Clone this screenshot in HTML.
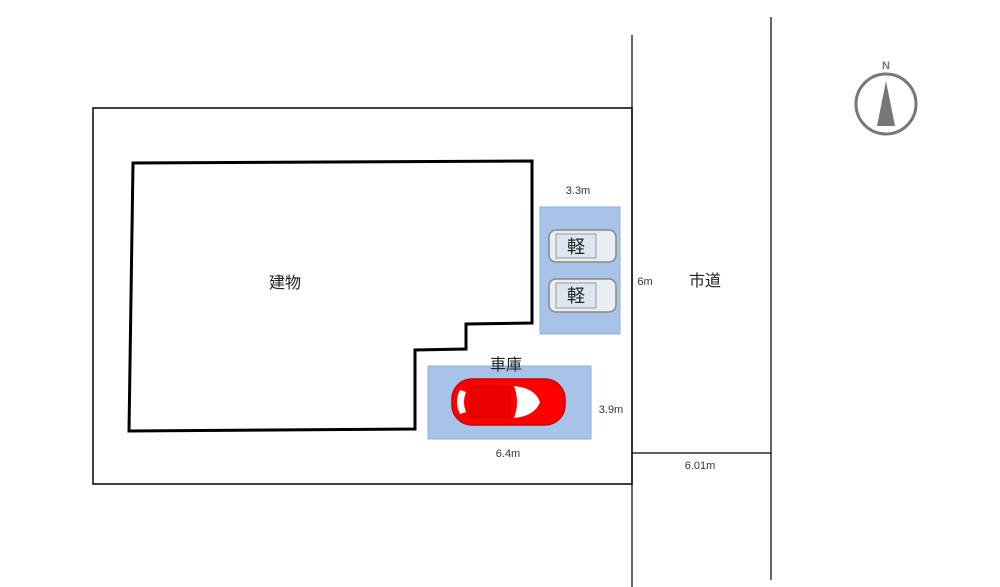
<!DOCTYPE html>
<html><head><meta charset="utf-8"><style>
body{margin:0;background:#fff;}
svg{display:block;}
text{font-family:"Liberation Sans","Noto Sans CJK JP",sans-serif;}
</style></head><body>
<svg width="1000" height="587" viewBox="0 0 1000 587">
<rect x="93" y="108" width="539" height="376" fill="none" stroke="#000" stroke-width="1.5"/>
<line x1="632" y1="35" x2="632" y2="587" stroke="#000" stroke-width="1.2"/>
<line x1="771" y1="17" x2="771" y2="580" stroke="#000" stroke-width="1.2"/>
<line x1="632" y1="453" x2="771" y2="453" stroke="#000" stroke-width="1.2"/>
<polygon points="133,163 532,161 532,323 466,324 466,349 415,350 415,429 129,431" fill="none" stroke="#000" stroke-width="3"/>
<rect x="540" y="207" width="80" height="127" fill="#a7c4e8" stroke="#8fb0da"/>
<rect x="428" y="366" width="163" height="73" fill="#a7c4e8" stroke="#8fb0da"/>
<g>
<rect x="549" y="230" width="67" height="32" rx="7" fill="#e9eef3" stroke="#888" stroke-width="1.5"/>
<rect x="556" y="234" width="40" height="24" fill="#dbe6f0" stroke="#999"/>
<rect x="549" y="279" width="67" height="33" rx="7" fill="#e9eef3" stroke="#888" stroke-width="1.5"/>
<rect x="556" y="283" width="40" height="25" fill="#dbe6f0" stroke="#999"/>
<text x="576" y="253" font-size="18" text-anchor="middle" fill="#222">軽</text>
<text x="576" y="302" font-size="18" text-anchor="middle" fill="#222">軽</text>
</g>
<g>
<rect x="452" y="379" width="113" height="46" rx="20" fill="#f00" stroke="#c00" stroke-width="1.5"/>
<path d="M514,386 Q535,388 540,402 Q535,416 514,418 Q520,402 514,386Z" fill="#fff"/>
<path d="M460,390 Q454,402 460,414 L466,412 Q462,402 466,392Z" fill="#fff"/>
<rect x="470" y="387" width="40" height="30" fill="#e00" stroke="#b00" stroke-width="0.8"/>
</g>
<text x="285" y="288" font-size="16" text-anchor="middle" fill="#222">建物</text>
<text x="705" y="286" font-size="16" text-anchor="middle" fill="#222">市道</text>
<text x="506" y="370" font-size="16" text-anchor="middle" fill="#222">車庫</text>
<text x="578" y="194" font-size="11" text-anchor="middle" fill="#333">3.3m</text>
<text x="645" y="285" font-size="11" text-anchor="middle" fill="#333">6m</text>
<text x="611" y="413" font-size="11" text-anchor="middle" fill="#333">3.9m</text>
<text x="508" y="457" font-size="11" text-anchor="middle" fill="#333">6.4m</text>
<text x="700" y="469" font-size="11" text-anchor="middle" fill="#333">6.01m</text>
<circle cx="886" cy="104" r="30" fill="none" stroke="#777" stroke-width="3"/>
<polygon points="886,81 877,126 895,126" fill="#777"/>
<text x="886" y="69" font-size="11" font-weight="bold" text-anchor="middle" fill="#777">N</text>
</svg>
</body></html>
